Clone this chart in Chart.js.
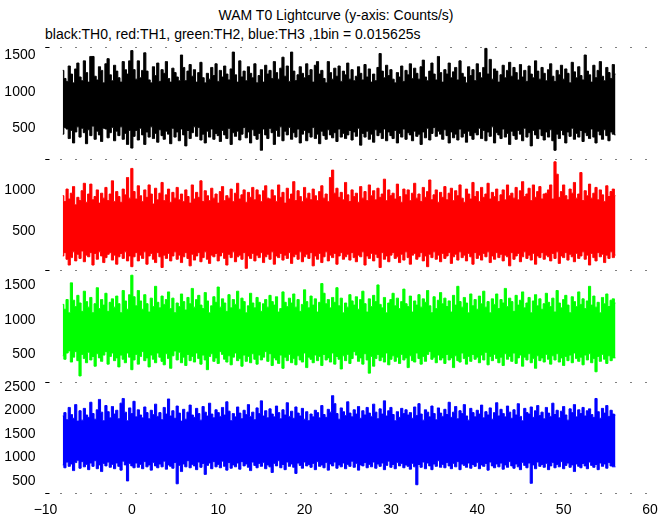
<!DOCTYPE html>
<html><head><meta charset="utf-8">
<script src="https://cdn.jsdelivr.net/npm/chart.js@4/dist/chart.umd.min.js"></script>
<style>
html,body{margin:0;padding:0;background:#fff;width:672px;height:515px;overflow:hidden}
#wrap{position:relative;width:672px;height:515px}
canvas{position:absolute;left:0}
.t{position:absolute;font-family:"Liberation Sans",Arial,sans-serif;font-size:14px;color:#000;white-space:nowrap;line-height:16px}
</style></head><body>
<div id="wrap">
<div class="t" style="left:0;width:672px;text-align:center;top:7px">WAM T0 Lightcurve (y-axis: Counts/s)</div>
<div class="t" style="left:45px;top:26px">black:TH0, red:TH1, green:TH2, blue:TH3 ,1bin = 0.015625s</div>
<canvas id="c0" width="672" height="152" style="top:27px"></canvas>
<canvas id="c1" width="672" height="152" style="top:138px"></canvas>
<canvas id="c2" width="672" height="152" style="top:250px"></canvas>
<canvas id="c3" width="672" height="154" style="top:361px"></canvas>
</div>
<script>
// time blocks (s): start and block width
const binStart = -8, binStep = 0.25;

// Upper / lower envelope of each light curve per block (counts/s)
const TH0_upper = [1290,1180,1140,1350,1240,1120,1310,1390,1200,1150,1420,1260,1130,1480,1480,1210,
1160,1340,1290,1120,1380,1450,1230,1150,1360,1280,1190,1130,1410,1300,1240,1420,
1560,1300,1170,1420,1190,1290,1530,1280,1160,1120,1340,1220,1390,1140,1300,1250,
1410,1180,1130,1320,1260,1200,1150,1500,1330,1150,1280,1370,1210,1300,1130,1260,
1400,1190,1120,1250,1170,1330,1220,1380,1140,1290,1200,1350,1240,1160,1310,1540,
1230,1130,1420,1200,1280,1150,1340,1250,1190,1380,1120,1220,1300,1130,1360,1240,
1290,1180,1410,1260,1170,1320,1470,1210,1350,1140,1540,1280,1150,1230,1340,1250,
1190,1380,1220,1300,1130,1360,1410,1240,1290,1180,1120,1410,1260,1170,1320,1210,
1350,1140,1280,1230,1390,1170,1300,1150,1210,1340,1250,1160,1370,1200,1310,1130,
1240,1150,1330,1520,1280,1190,1360,1220,1300,1170,1120,1260,1200,1350,1140,1290,
1230,1380,1180,1320,1250,1170,1340,1430,1200,1150,1280,1390,1240,1160,1480,1260,
1130,1300,1240,1390,1190,1270,1330,1160,1420,1250,1200,1120,1340,1220,1300,1150,
1380,1260,1190,1330,1590,1240,1440,1170,1310,1280,1130,1230,1360,1190,1290,1400,
1210,1330,1260,1160,1370,1200,1290,1140,1350,1240,1190,1420,1280,1170,1330,1250,
1150,1300,1380,1210,1140,1290,1230,1360,1170,1310,1250,1120,1400,1270,1190,1340,
1220,1160,1500,1280,1230,1130,1360,1190,1290,1410,1210,1150,1330,1260,1180,1370,
1240];
const TH0_lower = [420,510,490,360,470,300,450,520,380,500,440,290,480,400,530,350,
460,410,320,500,490,370,440,510,330,460,400,520,350,430,280,470,
230,390,470,340,500,410,280,450,380,520,360,430,310,480,400,350,
460,420,290,500,380,450,330,490,410,260,470,360,440,520,390,510,
340,420,300,460,380,490,350,430,400,320,470,410,360,500,280,440,
390,460,340,420,510,370,450,300,480,400,350,430,200,490,410,360,
500,440,280,470,390,520,330,460,410,510,350,440,380,490,300,420,
470,330,440,380,510,360,420,290,460,400,350,480,410,370,440,320,
490,380,430,360,410,470,340,450,390,500,270,430,380,460,350,420,
310,480,400,440,360,490,330,450,400,360,470,300,430,380,490,350,
440,410,330,460,390,420,280,450,370,500,340,430,510,390,460,420,
350,480,400,300,450,370,420,340,490,380,430,310,460,400,350,440,
410,500,360,470,330,450,390,520,300,440,410,360,490,380,430,280,
460,400,350,470,420,330,500,380,440,260,470,410,360,490,400,340,
450,380,480,330,200,420,360,470,410,300,450,390,500,350,430,380,
470,320,440,400,360,490,380,300,460,410,350,480,400,330,450,420,
410];
const TH1_upper = [930,860,1010,890,960,1040,820,910,870,990,1080,850,950,1070,880,920,
1000,840,960,900,1030,870,950,1110,860,980,920,850,1010,940,1150,900,
1260,980,890,1050,930,860,1000,910,1060,950,830,1020,880,960,1090,870,
940,1010,850,970,900,1030,880,950,860,1000,920,840,1060,890,970,910,
1110,860,990,930,870,1020,900,950,840,980,1040,870,930,900,1010,860,
960,1080,890,940,1000,850,970,910,1030,880,1000,940,860,990,1050,900,
890,1000,930,860,1060,910,970,840,1020,890,950,1100,870,990,920,860,
1030,900,960,880,1010,930,870,980,1050,900,950,860,1150,1240,960,1020,
910,970,880,1090,940,860,1000,920,960,850,1040,900,980,870,1060,930,
990,880,1020,910,950,1130,870,1000,930,960,890,1070,920,850,1010,940,
1000,870,960,1080,900,950,860,1030,910,980,1120,880,940,1000,850,970,
910,1040,880,960,1020,870,990,930,1060,900,850,1010,950,890,1090,920,
980,860,1030,910,950,1080,890,970,920,1010,860,940,1000,880,1060,930,
960,900,1030,880,990,1100,920,950,1020,870,1060,910,980,1040,890,950,
960,1000,1060,890,1340,1190,910,980,1060,930,880,1010,960,1090,900,950,
1210,870,990,930,1070,900,960,1030,880,1000,940,860,1050,920,980,1010,
930];
const TH1_lower = [200,240,160,90,180,250,140,220,170,260,130,210,190,240,90,230,
160,250,200,120,180,220,240,150,210,100,190,230,170,250,140,200,
70,190,240,140,210,170,250,100,200,230,160,120,240,190,60,210,
170,230,140,200,250,160,210,120,190,240,170,80,220,150,200,240,
130,180,250,160,110,210,190,230,140,200,240,170,90,220,180,250,
130,190,210,160,240,50,200,170,230,140,210,180,240,120,190,220,
160,250,100,200,180,230,150,210,170,240,110,190,220,160,250,130,
190,220,170,240,80,200,160,230,120,190,250,140,210,180,230,100,
200,240,160,190,220,150,240,180,130,210,190,250,90,200,170,230,
140,220,180,60,240,160,200,130,210,240,170,190,120,220,150,250,
180,100,210,230,160,190,240,140,200,70,220,180,250,160,210,130,
230,170,200,240,110,190,220,150,250,180,210,140,230,190,100,240,
170,210,150,230,190,250,120,200,160,240,180,220,140,210,190,80,
240,160,200,230,130,190,250,170,210,150,230,100,200,180,240,160,
210,190,140,230,170,250,110,200,180,240,150,220,190,130,230,170,
200,250,160,210,90,230,180,140,240,190,220,120,210,170,250,180,
210];
const TH2_upper = [1220,1150,1290,1100,1530,1280,1190,1350,1240,1120,1410,1260,1180,1320,1100,1230,
1460,1160,1290,1210,1380,1120,1250,1300,1180,1340,1230,1100,1420,1270,1150,1360,
1640,1330,1200,1420,1270,1150,1360,1230,1110,1310,1190,1480,1250,1170,1340,1220,
1290,1400,1160,1310,1100,1240,1190,1370,1260,1140,1320,1230,1450,1180,1290,1350,
1210,1160,1390,1270,1100,1200,1330,1250,1470,1180,1300,1240,1120,1360,1170,1290,
1220,1410,1150,1310,1260,1100,1200,1380,1240,1170,1320,1250,1120,1230,1290,1180,
1350,1260,1210,1330,1110,1160,1400,1250,1190,1310,1240,1370,1180,1290,1120,1220,
1430,1260,1170,1340,1210,1300,1110,1250,1520,1380,1230,1290,1170,1320,1250,1460,
1200,1310,1100,1240,1180,1360,1270,1210,1330,1150,1290,1410,1230,1110,1300,1190,
1350,1260,1500,1220,1170,1320,1100,1240,1290,1380,1200,1310,1160,1260,1440,1230,
1190,1340,1110,1270,1210,1360,1180,1300,1250,1420,1200,1100,1330,1160,1280,1390,
1230,1310,1190,1270,1110,1350,1210,1480,1260,1180,1320,1240,1100,1370,1200,1290,
1150,1340,1230,1410,1180,1260,1100,1300,1220,1370,1160,1290,1240,1450,1190,1310,
1260,1120,1350,1210,1280,1400,1170,1240,1320,1100,1270,1360,1200,1300,1150,1230,
1380,1250,1190,1310,1110,1420,1240,1170,1290,1350,1210,1100,1330,1260,1190,1400,
1220,1300,1160,1270,1480,1210,1340,1180,1250,1100,1320,1230,1370,1190,1280,1300,
1240];
const TH2_lower = [480,430,520,550,390,460,540,410,190,500,440,380,530,420,470,330,
510,450,400,490,540,360,470,520,410,450,320,490,430,380,520,460,
280,420,500,360,470,540,410,450,320,490,430,380,520,460,400,350,
510,440,300,480,550,420,530,380,460,340,500,410,470,390,520,440,
360,490,420,280,470,510,400,450,370,540,500,430,390,480,350,460,
520,410,440,330,490,400,470,380,510,430,360,490,420,460,540,400,
510,340,450,420,370,490,300,460,410,500,380,440,350,480,420,390,
520,310,460,430,380,490,410,470,340,500,420,450,390,520,360,470,
430,290,480,410,500,370,440,540,490,400,450,360,510,420,230,470,
330,440,500,410,460,390,520,350,430,480,400,460,370,500,420,450,
310,480,410,390,520,440,360,470,400,500,540,430,460,380,490,420,
450,370,500,420,450,310,480,410,390,520,440,360,470,400,500,430,
460,380,490,420,530,350,470,410,500,440,380,460,340,510,430,470,
400,520,370,450,490,330,460,420,510,380,440,300,480,410,450,390,
500,430,360,480,420,510,390,450,340,470,410,490,380,520,440,400,
460,350,490,420,510,380,440,250,470,400,500,430,370,480,410,450,
450];
const TH3_upper = [1880,1950,1800,2060,1910,1830,2120,1770,1990,1790,2040,1900,1850,2170,1930,1810,
2010,2230,1960,1780,2100,1970,1840,2080,1920,2000,1820,2150,2250,1960,1780,2050,
1930,2190,1860,2010,1900,1840,2070,1950,1820,2000,1910,2130,1870,1950,1800,2060,
1920,2240,1880,1990,1830,2090,1940,1770,2020,1810,1960,2110,1900,1850,2040,1930,
1790,2080,1960,1880,2150,1920,1840,2010,1950,1870,2060,1900,2180,1980,1780,1930,
1860,2070,1940,1820,2000,1910,2120,1870,1960,1800,2050,1930,2200,1880,1990,1840,
2030,1920,1860,2090,1950,1820,2010,1900,2160,1870,1980,1830,2070,1940,1880,2040,
1810,1970,1780,1920,1860,2000,1950,1840,2100,1910,1850,2020,1960,2310,2140,1930,
1810,2050,1970,1890,2180,1940,1860,2010,1920,2080,1830,1990,1900,2060,1940,1870,
2130,1960,1820,2030,1920,2200,1880,1990,2060,1910,1780,1970,1850,2040,1930,2010,
1900,1950,1830,2070,1890,2140,1920,1790,2010,1960,1860,2090,1930,1800,2050,1940,
1870,2020,1910,2170,1850,1960,2080,1820,1990,1930,2120,1880,1790,2040,1950,1860,
2000,1920,2110,1840,1970,1900,2050,1810,1950,2160,1880,2020,1930,1860,2090,1960,
1830,2010,1900,2140,1870,1780,2040,1950,1920,2070,1850,1990,2100,1890,1960,1820,
2060,1940,1870,2150,1910,2000,1840,1980,2080,1900,1790,2030,1950,2120,1860,2010,
1930,2060,1880,1990,2030,1910,1850,2250,1970,1830,2040,1940,2100,1870,2000,1920,
1900];
const TH3_lower = [840,780,900,810,860,720,890,940,770,910,800,850,740,880,810,930,
760,840,700,870,820,900,790,850,760,880,810,730,920,840,500,870,
820,780,880,790,850,760,910,800,840,730,890,820,780,860,800,920,
750,840,810,770,890,440,830,700,860,800,930,780,850,820,740,900,
790,870,640,830,880,760,910,800,850,780,920,810,730,890,770,840,
800,880,750,910,820,860,790,720,900,830,780,870,810,890,760,840,
800,680,870,820,930,780,850,740,900,810,860,790,660,880,830,770,
900,820,850,790,870,740,910,810,840,780,890,730,860,820,900,770,
840,800,880,760,850,810,920,790,870,730,840,820,890,780,850,800,
900,770,860,810,880,740,830,920,790,850,760,890,820,870,780,840,
810,750,870,800,420,850,790,900,760,880,820,740,860,810,930,790,
850,780,890,820,760,870,800,910,740,860,830,790,880,770,850,810,
890,760,840,810,870,730,900,820,780,860,800,880,750,840,790,910,
820,770,860,800,740,890,830,780,880,450,840,760,900,810,850,790,
870,740,820,890,780,850,800,910,760,830,880,790,840,700,860,810,
780,870,820,760,900,830,790,850,740,880,810,860,770,890,820,800,
800];

// tick labels
const xTicks = [-10, 0, 10, 20, 30, 40, 50, 60];
const yTicks = [[500, 1000, 1500], [500, 1000], [500, 1000, 1500], [500, 1000, 1500, 2000, 2500]];
const yRange = [[88, 1609], [30, 1380], [110, 1715], [245, 2610]];
const seriesNames = ['TH0', 'TH1', 'TH2', 'TH3'];
const colors = ['#000000', '#ff0000', '#00ff00', '#0000ff'];
const uppers = [TH0_upper, TH1_upper, TH2_upper, TH3_upper];
const lowers = [TH0_lower, TH1_lower, TH2_lower, TH3_lower];

const times = TH0_upper.map((_, i) => +(binStart + i * binStep).toFixed(3));

const layouts = [
  {id: 'c0', padTop: 20, padBottom: 20.5},
  {id: 'c1', padTop: 20.5, padBottom: 20},
  {id: 'c2', padTop: 20, padBottom: 20.5},
  {id: 'c3', padTop: 20.5, padBottom: 0}
];

const FONT = {family: '"Liberation Sans", Arial, sans-serif', size: 14};

const framePlugin = {
  id: 'frame',
  afterDraw(chart, args, opts) {
    const {ctx, chartArea: a} = chart;
    ctx.save();
    ctx.strokeStyle = '#000';
    ctx.lineWidth = 1;
    const ys = [a.top];
    if (opts.bottom) ys.push(a.bottom);
    ctx.setLineDash([1, 14]);
    ys.forEach(y => {
      const yy = Math.round(y) + 0.5;
      ctx.beginPath(); ctx.moveTo(a.left, yy); ctx.lineTo(a.right, yy); ctx.stroke();
    });
    ctx.setLineDash([]);
    ys.forEach(y => {
      const yy = Math.round(y) + 0.5;
      ctx.beginPath(); ctx.moveTo(a.left, yy); ctx.lineTo(a.left + 4, yy); ctx.stroke();
    });
    ctx.restore();
  }
};

Chart.defaults.font.family = FONT.family;
Chart.defaults.color = '#000';

layouts.forEach((L, k) => {
  const last = k === layouts.length - 1;
  const up = uppers[k].map((v, i) => ({x: times[i], y: v}));
  const lo = lowers[k].map((v, i) => ({x: times[i], y: v}));
  new Chart(document.getElementById(L.id), {
    type: 'line',
    data: {
      datasets: [
        {label: seriesNames[k] + ' max', data: up, borderColor: colors[k], backgroundColor: colors[k],
         borderWidth: 1, pointRadius: 0, stepped: 'middle', fill: '+1'},
        {label: seriesNames[k] + ' min', data: lo, borderColor: colors[k], backgroundColor: colors[k],
         borderWidth: 1, pointRadius: 0, stepped: 'middle', fill: false}
      ]
    },
    options: {
      responsive: false,
      animation: false,
      devicePixelRatio: 1,
      events: [],
      layout: {padding: {left: 0, right: 22, top: L.padTop, bottom: L.padBottom}},
      plugins: {legend: {display: false}, tooltip: {enabled: false}, title: {display: false},
        frame: {bottom: last}},
      scales: {
        x: {
          type: 'linear', min: -10, max: 60, display: last,
          grid: {display: false, drawTicks: false}, border: {display: false},
          afterBuildTicks: s => { s.ticks = xTicks.map(v => ({value: v})); },
          afterFit: s => { s.height = last ? 22 : 0; },
          ticks: {font: FONT, color: '#000', padding: 9, maxRotation: 0,
            callback: v => String(v).replace('-', '\u2212')}
        },
        y: {
          type: 'linear', min: yRange[k][0], max: yRange[k][1],
          grid: {display: false, drawTicks: false}, border: {display: false},
          afterBuildTicks: s => { s.ticks = yTicks[k].map(v => ({value: v})); },
          afterFit: s => { s.width = 45.5; },
          ticks: {font: FONT, color: '#000', padding: 10, callback: v => String(v)}
        }
      }
    },
    plugins: [framePlugin]
  });
});
</script>
</body></html>
